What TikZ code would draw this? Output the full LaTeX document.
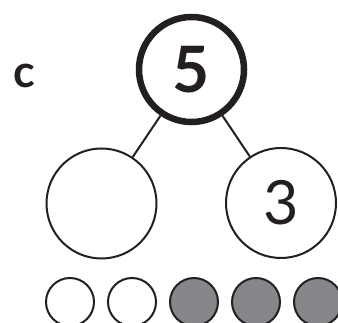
\documentclass[tikz,border=0pt]{standalone}
\usepackage{fontspec}
\setmainfont{Lato}
\definecolor{ink}{HTML}{231F20}
\definecolor{dotgray}{HTML}{86878B}
\begin{document}
\begin{tikzpicture}[x=1pt,y=-1pt,
  bigring/.style={circle,draw=ink,line width=6.5pt,minimum size=105pt,inner sep=0pt},
  ring/.style={circle,draw=ink,line width=2pt,minimum size=110pt,inner sep=0pt},
  dot/.style={circle,draw=ink,line width=2pt,minimum size=48pt,inner sep=0pt},
  link/.style={draw=ink,line width=2pt}]
\useasboundingbox (0,0) rectangle (338,323);
\node[font=\bfseries\fontsize{45}{45}\selectfont,text=ink] (lab) at (24,76) {c};
\node[bigring,font=\bfseries\fontsize{64}{64}\selectfont,text=ink] (top) at (191.5,69.5) {5};
\node[ring] (left) at (101.5,203.5) {};
\node[ring,font=\fontsize{61}{61}\selectfont,text=ink] (right) at (281,203) {3};
\draw[link] (top) -- (left);
\draw[link] (top) -- (right);
\node[dot,fill=white] (d1) at (70,302) {};
\node[dot,fill=white] (d2) at (132,302) {};
\node[dot,fill=dotgray] (d3) at (194,302) {};
\node[dot,fill=dotgray] (d4) at (256,302) {};
\node[dot,fill=dotgray] (d5) at (318,302) {};
\end{tikzpicture}
\end{document}
